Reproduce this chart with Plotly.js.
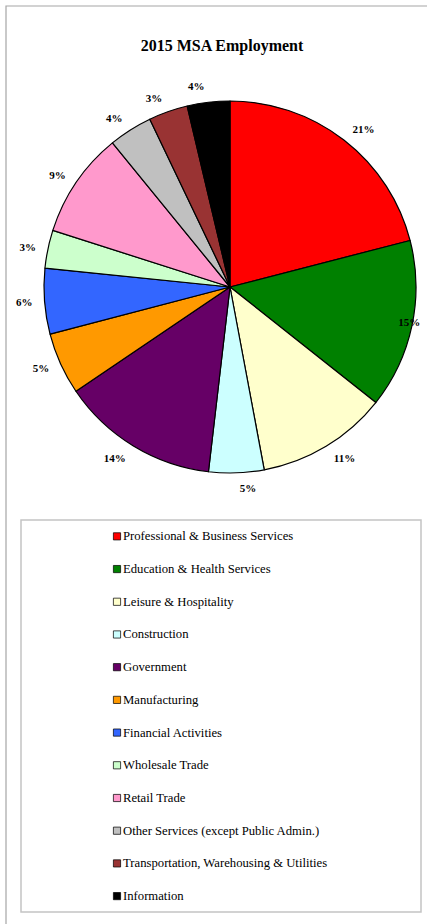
<!DOCTYPE html>
<html>
<head>
<meta charset="utf-8">
<script src="https://cdn.plot.ly/plotly-3.0.1.min.js"></script>
<style>
html, body { margin: 0; padding: 0; background: #fff; }
#chart { width: 427px; height: 924px; }
.legend .legendpoints path.legendpie { transform: translate(34px, 0px) scale(0.6); }
.legend .legendtext { transform: translateY(-5px); font-family: "Liberation Serif", "Times New Roman", serif !important; }
.legend .legendtext tspan { font-family: "Liberation Serif", "Times New Roman", serif !important; }
path.textline { display: none; }
</style>
</head>
<body>
<div id="chart"></div>
<script>
// ---- data ----
var categories = [
  "Professional & Business Services",
  "Education & Health Services",
  "Leisure & Hospitality",
  "Construction",
  "Government",
  "Manufacturing",
  "Financial Activities",
  "Wholesale Trade",
  "Retail Trade",
  "Other Services (except Public Admin.)",
  "Transportation, Warehousing & Utilities",
  "Information"
];
var shares = [21.0, 14.7, 11.4, 4.8, 13.7, 5.4, 5.7, 3.3, 9.2, 3.8, 3.4, 3.7];
var sliceColors = [
  "#FF0000", "#008000", "#FFFFCC", "#CCFFFF", "#660066", "#FF9900",
  "#3366FF", "#CCFFCC", "#FF99CC", "#C0C0C0", "#993333", "#000000"
];
var chartTitle = "2015 MSA Employment";

// ---- chart ----
var W = 427, H = 924;
function px(x) { return x / W; }
function py(y) { return 1 - y / H; }

var serif = "Liberation Serif, Times New Roman, serif";
var cx = 230, cy = 287;          // pie centre (px)
var rPie = 186;                  // visible pie radius
var rLabel = 195;                // radius used to place outside labels
var rLabelTight = 169;           // label that sits over the pie edge (right side)
var tightIndex = 1;              // Education & Health label is drawn over the edge

function dom(r) {
  return { x: [px(cx - r), px(cx + r)], y: [py(cy + r), py(cy - r)] };
}
var clear = categories.map(function () { return "rgba(0,0,0,0)"; });
var labelFont = { family: serif, size: 11, color: "#000000", weight: 700 };

var pieMain = {
  type: "pie",
  name: "main",
  labels: categories.map(function (c) {
    return '<span style="font-size:12.7px">' + c + '</span>';
  }),
  values: shares,
  sort: false,
  direction: "clockwise",
  rotation: 0,
  marker: { colors: sliceColors, line: { color: "#000000", width: 1.2 } },
  textinfo: "none",
  hoverinfo: "label+percent",
  domain: dom(rPie)
};

var pieLabels = {
  type: "pie",
  name: "labels",
  labels: categories,
  values: shares,
  sort: false,
  direction: "clockwise",
  rotation: 0,
  showlegend: false,
  marker: { colors: clear, line: { width: 0 } },
  texttemplate: "%{percent:.0%}",
  textposition: categories.map(function (c, i) { return i === tightIndex ? "none" : "outside"; }),
  outsidetextfont: labelFont,
  hoverinfo: "skip",
  domain: dom(rLabel)
};

var pieLabelTight = {
  type: "pie",
  name: "labels2",
  labels: categories,
  values: shares,
  sort: false,
  direction: "clockwise",
  rotation: 0,
  showlegend: false,
  marker: { colors: clear, line: { width: 0 } },
  texttemplate: "%{percent:.0%}",
  textposition: categories.map(function (c, i) { return i === tightIndex ? "outside" : "none"; }),
  outsidetextfont: labelFont,
  hoverinfo: "skip",
  domain: dom(rLabelTight)
};

var layout = {
  width: W,
  height: H,
  margin: { l: 0, r: 0, t: 0, b: 0 },
  paper_bgcolor: "#ffffff",
  font: { family: serif },
  title: {
    text: chartTitle,
    font: { family: serif, size: 16, color: "#000000", weight: 700 },
    x: px(222), xanchor: "center",
    y: py(45), yanchor: "middle"
  },
  showlegend: true,
  legend: {
    x: px(83), xanchor: "left",
    y: py(515), yanchor: "top",
    font: { family: serif, size: 22.85, color: "#000000" },
    bgcolor: "rgba(0,0,0,0)",
    borderwidth: 0,
    itemclick: false,
    itemdoubleclick: false
  },
  shapes: [
    { type: "rect", xref: "paper", yref: "paper",
      x0: px(6), x1: px(440), y0: py(6), y1: py(940),
      line: { color: "#a6a6a6", width: 1.2 }, fillcolor: "rgba(0,0,0,0)", layer: "below" },
    { type: "rect", xref: "paper", yref: "paper",
      x0: px(21), x1: px(421), y0: py(520), y1: py(912),
      line: { color: "#c4c4c4", width: 1.5 }, fillcolor: "rgba(0,0,0,0)", layer: "below" }
  ]
};

Plotly.newPlot("chart", [pieMain, pieLabels, pieLabelTight], layout, { displayModeBar: false, staticPlot: true });
</script>
</body>
</html>
